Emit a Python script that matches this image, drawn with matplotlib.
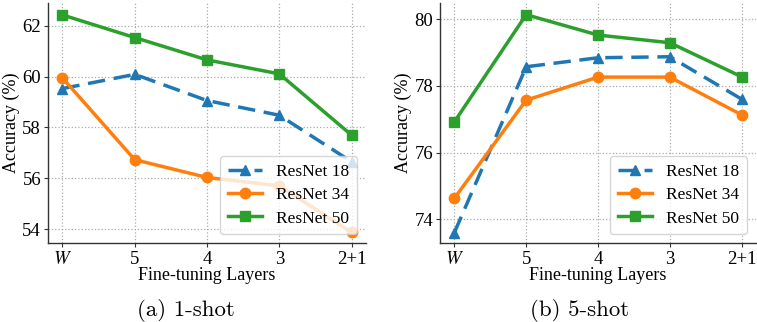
import matplotlib
matplotlib.use("Agg")
import matplotlib.pyplot as plt

plt.rcParams['font.family'] = ['Liberation Serif', 'DejaVu Serif']
plt.rcParams['mathtext.fontset'] = 'stix'

layers = ['$W$', '5', '4', '3', '2+1']
series_names = ['ResNet 18', 'ResNet 34', 'ResNet 50']

one_shot_r18 = [59.53, 60.09, 59.06, 58.48, 56.65]
one_shot_r34 = [59.95, 56.73, 56.03, 55.70, 53.87]
one_shot_r50 = [62.43, 61.54, 60.66, 60.11, 57.70]

five_shot_r18 = [73.60, 78.57, 78.84, 78.87, 77.60]
five_shot_r34 = [74.63, 77.57, 78.26, 78.26, 77.13]
five_shot_r50 = [76.92, 80.13, 79.52, 79.29, 78.27]

one_shot_yticks = [54, 56, 58, 60, 62]
five_shot_yticks = [74, 76, 78, 80]

captions = ['(a) 1-shot', '(b) 5-shot']

W, H = 757, 322
fig = plt.figure(figsize=(W / 100, H / 100), dpi=100)

def px_axes(l, t, r, b):
    return fig.add_axes([l / W, 1 - b / H, (r - l) / W, (b - t) / H])

ax1 = px_axes(48, 3, 366, 243)
ax2 = px_axes(440, 3, 756, 243)

colors = ['#1f77b4', '#ff7f0e', '#2ca02c']
styles = [dict(ls=(0, (5, 2.5)), marker='^'), dict(ls='-', marker='o'), dict(ls='-', marker='s')]

def draw(ax, data, yticks, ylim):
    x = list(range(len(layers)))
    for vals, name, c, st in zip(data, series_names, colors, styles):
        ax.plot(x, vals, color=c, lw=2.5, ms=7.5, label=name, **st)
    ax.set_xlim(-0.2, len(layers) - 1 + 0.2)
    ax.set_ylim(*ylim)
    ax.set_xticks(x)
    ax.set_xticklabels(layers)
    ax.set_yticks(yticks)
    ax.tick_params(labelsize=13.5, length=3, width=0.8, color='#333333')
    ax.tick_params(axis='x', pad=2.5)
    ax.tick_params(axis='y', pad=2)
    ax.grid(True, ls=':', color='#aaaaaa', lw=0.9)
    for s in ['top', 'right']:
        ax.spines[s].set_visible(False)
    for s in ['left', 'bottom']:
        ax.spines[s].set_color('#333333')
        ax.spines[s].set_linewidth(1.0)
    ax.set_xlabel('Fine-tuning Layers', fontsize=13)
    ax.set_ylabel('Accuracy (%)', fontsize=13)
    bbox = ax.get_position()
    ax.yaxis.set_label_coords(-28 / (bbox.width * W), 0.5)
    ax.xaxis.set_label_coords(0.5, -24.5 / (bbox.height * H))
    ax.legend(loc='lower right', fontsize=12.5, framealpha=0.8, handlelength=2.0,
              borderpad=0.45, labelspacing=0.4, edgecolor='#cccccc')

draw(ax1, [one_shot_r18, one_shot_r34, one_shot_r50], one_shot_yticks, (53.45, 62.9))
draw(ax2, [five_shot_r18, five_shot_r34, five_shot_r50], five_shot_yticks, (73.29, 80.48))

fig.text(186 / W, 1 - 311 / H, captions[0], ha='center', va='center', fontsize=16.5, family='cmr10')
fig.text(580 / W, 1 - 311 / H, captions[1], ha='center', va='center', fontsize=16.5, family='cmr10')

fig.savefig('out.png', dpi=100)
